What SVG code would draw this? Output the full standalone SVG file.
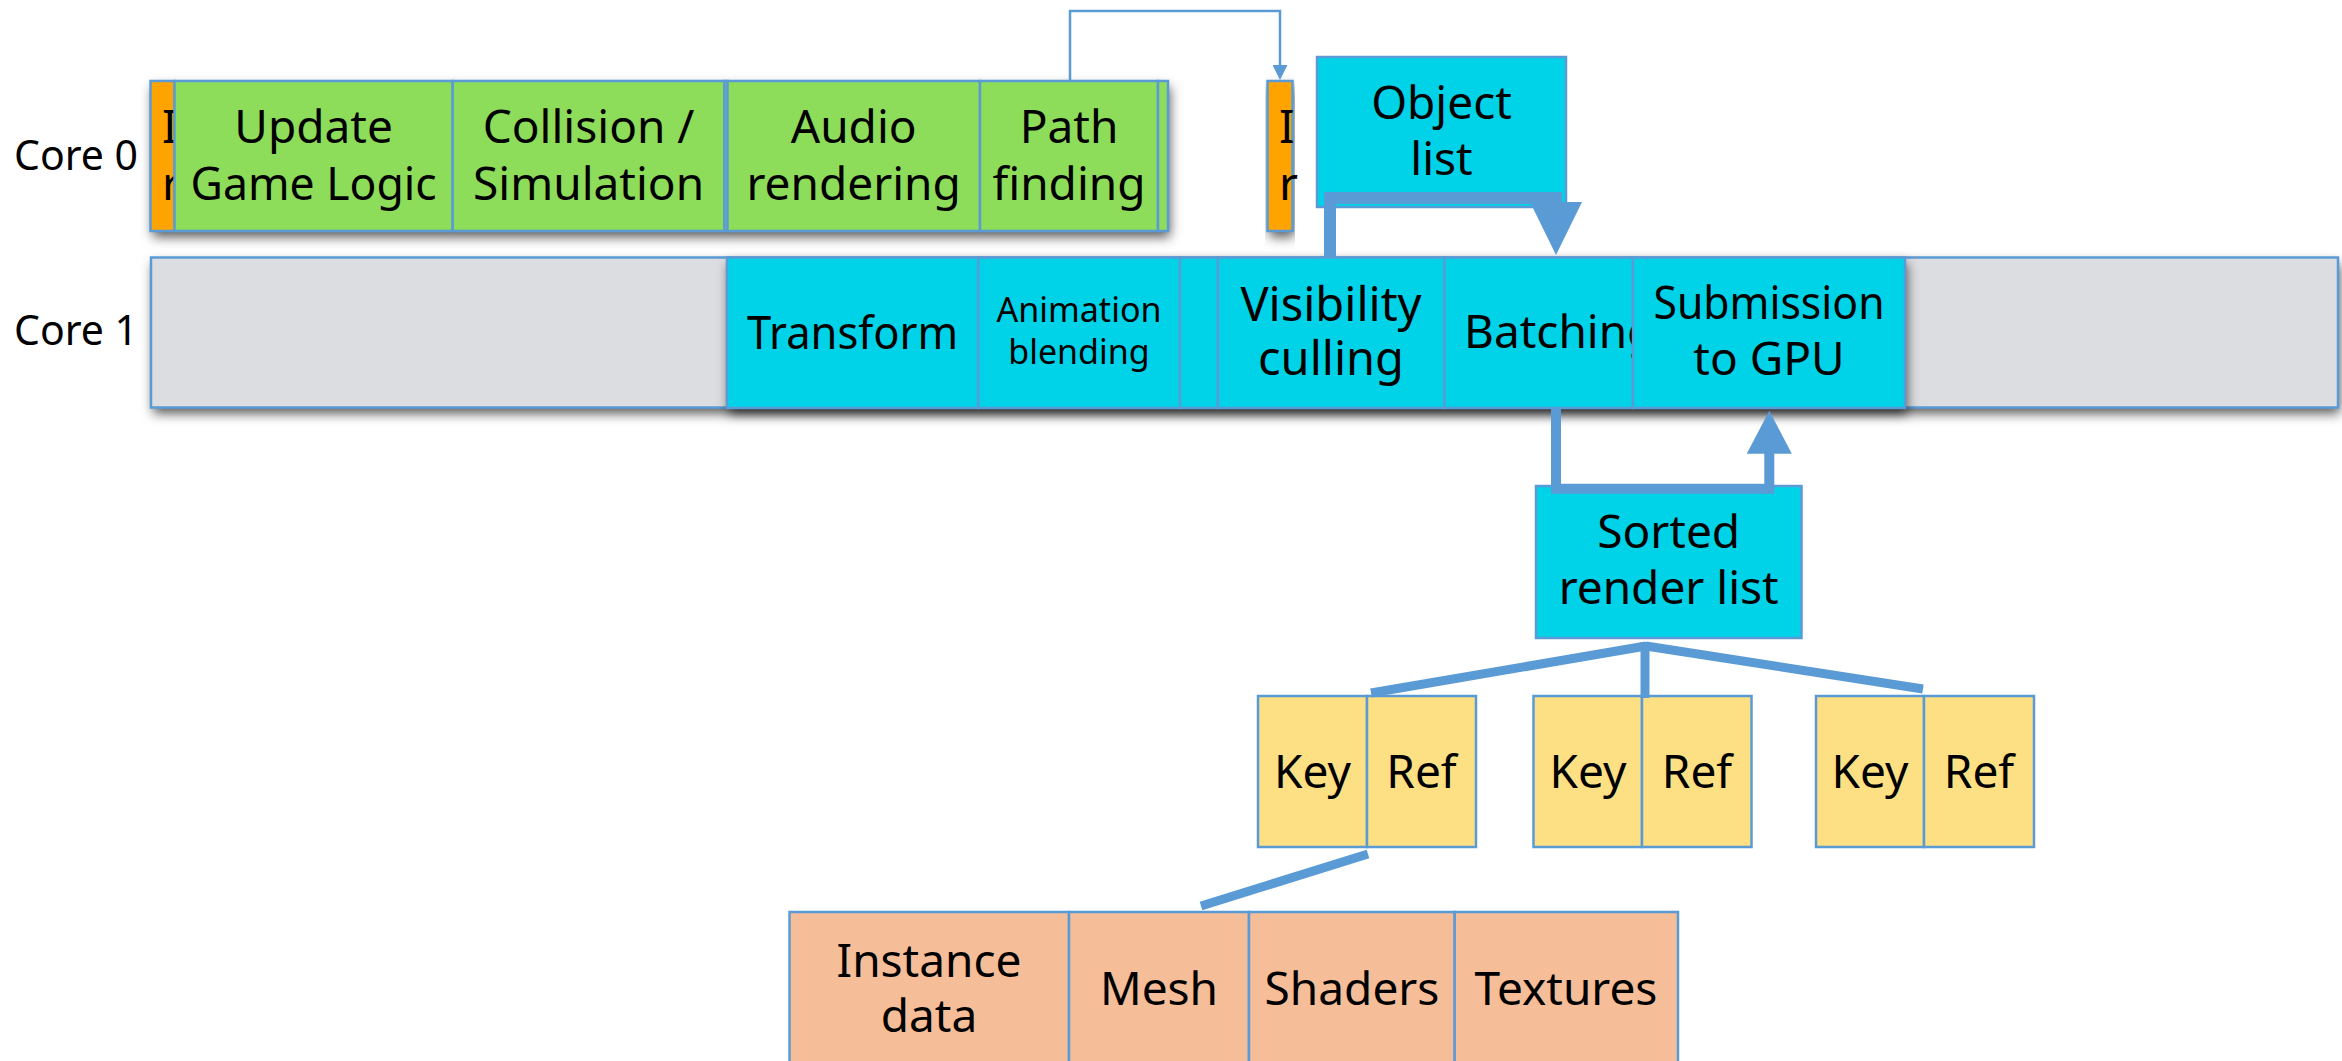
<svg xmlns="http://www.w3.org/2000/svg" width="2342" height="1061" viewBox="0 0 2342 1061">
<style>
text{font-family:"Noto Sans","DejaVu Sans",sans-serif;fill:#000;font-size:46px;text-anchor:middle}
.lbl{text-anchor:start;font-size:41px}
.st{text-anchor:start}
.sm{font-size:34px}
.b{stroke:#5b9bd5;stroke-width:2.5}
.green{fill:#8ddc5a}
.orange{fill:#ffa300}
.cyan{fill:#00d3e8}
.gray{fill:#dcdde0}
.yellow{fill:#fde084}
.peach{fill:#f5bd98}
.sh{fill:#fff;filter:url(#shadow)}
.c{fill:none;stroke:#5b9bd5;stroke-linejoin:miter;stroke-linecap:butt}
</style>
<defs>
<filter id="shadow" x="-10%" y="-30%" width="120%" height="170%">
<feDropShadow dx="2" dy="6" stdDeviation="6" flood-color="#000" flood-opacity="0.65"/>
</filter>
<marker id="aThin" viewBox="0 0 15 15" refX="5" refY="7.5" markerWidth="15" markerHeight="15" markerUnits="userSpaceOnUse" orient="auto"><path d="M0,0 L15,7.5 L0,15 z" fill="#5b9bd5"/></marker>
<marker id="aBig" viewBox="0 0 53 52" refX="8" refY="26" markerWidth="53" markerHeight="52" markerUnits="userSpaceOnUse" orient="auto"><path d="M0,0 L53,26 L0,52 z" fill="#5b9bd5"/></marker>
<marker id="aMid" viewBox="0 0 43 45" refX="3.7" refY="22.5" markerWidth="43" markerHeight="45" markerUnits="userSpaceOnUse" orient="auto"><path d="M0,0 L43,22.5 L0,45 z" fill="#5b9bd5"/></marker>
</defs>
<rect width="2342" height="1061" fill="#fff"/>

<text class="lbl" x="14" y="170">Core 0</text>
<text class="lbl" x="14" y="345">Core 1</text>

<!-- Core 1 background bar -->
<g id="core1-bar">
<rect class="sh" x="151" y="257.5" width="2187" height="150"/>
<rect class="gray b" x="151" y="257.5" width="2187" height="150"/>
</g>

<!-- Core 0 shadows -->
<rect class="sh" x="150.5" y="81" width="1017.5" height="150"/>
<rect class="sh" x="1267.5" y="81" width="25" height="150"/>

<g id="input1">
<rect class="orange b" x="150.5" y="81" width="24" height="150"/>
<text class="st" x="162" y="143">I</text>
<text class="st" x="162" y="199.5">r</text>
</g>
<g id="update-game-logic">
<rect class="green b" x="174.5" y="81" width="278.2" height="150"/>
<text x="313.6" y="143">Update</text>
<text x="313.6" y="199.5" textLength="246" lengthAdjust="spacingAndGlyphs">Game Logic</text>
</g>
<g id="collision">
<rect class="green b" x="452.7" y="81" width="271.8" height="150"/>
<text x="588.6" y="143">Collision /</text>
<text x="588.6" y="199.5">Simulation</text>
</g>
<g id="thin-task">
<rect class="green b" x="724.5" y="81" width="3" height="150"/>
</g>
<g id="audio-rendering">
<rect class="green b" x="727.5" y="81" width="252.5" height="150"/>
<text x="853.7" y="143">Audio</text>
<text x="853.7" y="199.5">rendering</text>
</g>
<g id="path-finding">
<rect class="green b" x="980" y="81" width="178" height="150"/>
<text x="1069" y="143">Path</text>
<text x="1069" y="199.5">finding</text>
</g>
<g id="thin-task2">
<rect class="green b" x="1158" y="81" width="10" height="150"/>
</g>
<g id="input2">
<rect class="orange b" x="1267.5" y="81" width="25" height="150"/>
<text class="st" x="1279" y="143">I</text>
<text class="st" x="1279" y="199.5">r</text>
</g>

<g id="object-list">
<rect class="cyan b" x="1317" y="57" width="249" height="150"/>
<text x="1441.5" y="119">Object</text>
<text x="1441.5" y="175">list</text>
</g>

<!-- Core 1 render tasks -->
<rect class="sh" x="727" y="257.5" width="1178" height="150.5"/>
<g id="transform">
<rect class="cyan b" x="727" y="257.5" width="251.3" height="150.5"/>
<text x="852.6" y="349" textLength="211" lengthAdjust="spacingAndGlyphs">Transform</text>
</g>
<g id="animation-blending">
<rect class="cyan b" x="978.3" y="257.5" width="201.7" height="150.5"/>
<text class="sm" x="1079" y="322">Animation</text>
<text class="sm" x="1079" y="364">blending</text>
</g>
<g id="empty-task">
<rect class="cyan b" x="1180" y="257.5" width="38" height="150.5"/>
</g>
<g id="visibility-culling">
<rect class="cyan b" x="1218" y="257.5" width="226.5" height="150.5"/>
<text x="1331" y="321" style="font-size:47px">Visibility</text>
<text x="1331" y="375" style="font-size:47px">culling</text>
</g>
<g id="batching">
<rect class="cyan b" x="1444.5" y="257.5" width="188.5" height="150.5"/>
<text class="st" x="1464" y="348">Batching</text>
</g>
<g id="submission">
<rect class="cyan b" x="1633" y="257.5" width="272" height="150.5"/>
<text x="1769" y="319" textLength="231" lengthAdjust="spacingAndGlyphs">Submission</text>
<text x="1769" y="375">to GPU</text>
</g>

<g id="sorted-render-list">
<rect class="cyan b" x="1536" y="486" width="265.5" height="152"/>
<text x="1668.7" y="548">Sorted</text>
<text x="1668.7" y="604">render list</text>
</g>

<g id="key1"><rect class="yellow b" x="1258" y="696" width="109" height="151"/><text x="1312.5" y="788">Key</text></g>
<g id="ref1"><rect class="yellow b" x="1367" y="696" width="109" height="151"/><text x="1421.5" y="788">Ref</text></g>
<g id="key2"><rect class="yellow b" x="1533.5" y="696" width="108.5" height="151"/><text x="1588" y="788">Key</text></g>
<g id="ref2"><rect class="yellow b" x="1642" y="696" width="109.5" height="151"/><text x="1697" y="788">Ref</text></g>
<g id="key3"><rect class="yellow b" x="1816" y="696" width="108" height="151"/><text x="1870" y="788">Key</text></g>
<g id="ref3"><rect class="yellow b" x="1924" y="696" width="110" height="151"/><text x="1979" y="788">Ref</text></g>

<g id="instance-data"><rect class="peach b" x="789.5" y="912" width="279.5" height="165"/><text x="929" y="977">Instance</text><text x="929" y="1032">data</text></g>
<g id="mesh"><rect class="peach b" x="1069" y="912" width="180" height="165"/><text x="1159" y="1005">Mesh</text></g>
<g id="shaders"><rect class="peach b" x="1249" y="912" width="205.7" height="165"/><text x="1352" y="1005">Shaders</text></g>
<g id="textures"><rect class="peach b" x="1454.7" y="912" width="223.3" height="165"/><text x="1566" y="1005">Textures</text></g>

<g id="connectors">
<path class="c" d="M1070,81 V11 H1280 V70" stroke-width="2.5" marker-end="url(#aThin)"/>
<path class="c" d="M1330,257 V198 H1556 V210" stroke-width="12" marker-end="url(#aBig)"/>
<path class="c" d="M1556,409 V488.7 H1769.3 V450" stroke-width="10" marker-end="url(#aMid)"/>
<path class="c" d="M1646,646 L1371,693" stroke-width="9"/>
<path class="c" d="M1646,646 L1923,689" stroke-width="9"/>
<path class="c" d="M1645,642 V698" stroke-width="9"/>
<path class="c" d="M1368,854 L1201,906" stroke-width="9"/>
</g>
</svg>
